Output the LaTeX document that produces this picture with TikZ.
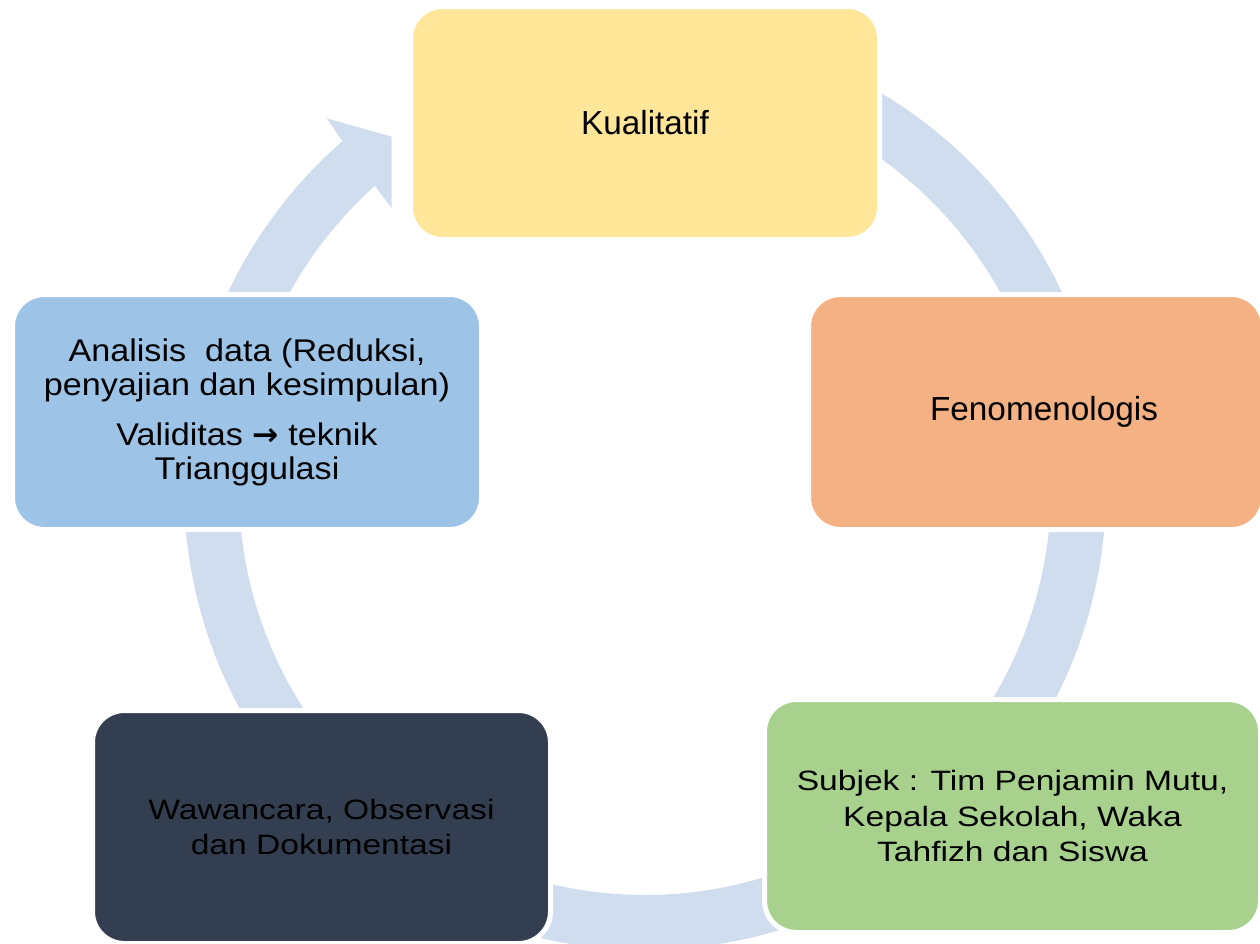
\documentclass[tikz,border=0pt]{standalone}
\usepackage{fontspec}
\setmainfont{Liberation Sans}
\newfontfamily\midfont[FakeStretch=1.09]{Liberation Sans}
\newfontfamily\widefont[FakeStretch=1.2]{Liberation Sans}
\newfontfamily\panahfont{DejaVu Sans}
\usetikzlibrary{calc}
\definecolor{arcblue}{RGB}{208,221,238}
\definecolor{kuning}{RGB}{255,230,153}
\definecolor{oranye}{RGB}{244,177,131}
\definecolor{hijau}{RGB}{169,209,142}
\definecolor{navy}{RGB}{51,63,80}
\definecolor{biru}{RGB}{157,195,230}
\tikzset{every picture/.style={line width=0.75pt}}
\tikzset{arus/.style={fill=arcblue},
  blok/.style={draw=white, line width=3.75pt, rounded corners=24pt, inner sep=0pt, align=center, text=black}}

\begin{document}
\begin{tikzpicture}[x=0.75pt,y=0.75pt,yscale=-1,xscale=1]
\useasboundingbox (0,0) rectangle (1260,943);
\coordinate (ctr) at (645,489);

%Shape: Block Arc (kualitatif to fenomenologis)
\fill [arus] ($(ctr)+(270:461)$) arc [start angle=270, end angle=355, radius=461] -- ($(ctr)+(355:406)$) arc [start angle=355, end angle=270, radius=406] -- cycle;
%Shape: Block Arc (fenomenologis to subjek)
\fill [arus] ($(ctr)+(-5:461)$) arc [start angle=-5, end angle=55, radius=461] -- ($(ctr)+(55:406)$) arc [start angle=55, end angle=-5, radius=406] -- cycle;
%Shape: Block Arc (subjek to wawancara)
\fill [arus] ($(ctr)+(60:461)$) arc [start angle=60, end angle=120, radius=461] -- ($(ctr)+(120:406)$) arc [start angle=120, end angle=60, radius=406] -- cycle;
%Shape: Block Arc (wawancara to analisis)
\fill [arus] ($(ctr)+(125:461)$) arc [start angle=125, end angle=185, radius=461] -- ($(ctr)+(185:406)$) arc [start angle=185, end angle=125, radius=406] -- cycle;
%Shape: Circular Arrow (analisis to kualitatif)
\fill [arus] ($(ctr)+(190:461)$) arc [start angle=190, end angle=228.97, radius=461] -- (326.7,118.3) -- (391.7,136.7) -- (391.7,208.3) -- ($(ctr)+(228.3:406)$) arc [start angle=228.3, end angle=190, radius=406] -- cycle;

% Text Node
\node [blok, fill=kuning, minimum width=351.75pt, minimum height=174.75pt, font={\fontsize{25}{30}\selectfont}] (kual) at (645,123) {Kualitatif};
% Text Node
\node [blok, fill=oranye, minimum width=341.25pt, minimum height=176.25pt, font={\fontsize{25}{30}\selectfont}] (fenom) at (1036,412) {\hspace*{12pt}Fenomenologis};
% Text Node
\node [blok, fill=hijau, minimum width=372pt, minimum height=174.75pt, font={\widefont\fontsize{21}{26.5}\selectfont}] (subj) at (1012.5,816) {Subjek : Tim Penjamin Mutu,\\Kepala Sekolah, Waka\\Tahfizh dan Siswa};
% Text Node
\node [blok, fill=navy, minimum width=343.5pt, minimum height=174.75pt, font={\widefont\fontsize{21}{26.5}\selectfont}] (wawa) at (321.5,827) {Wawancara, Observasi\\dan Dokumentasi};
% Text Node
\node [blok, fill=biru, minimum width=351.75pt, minimum height=176.25pt, font={\midfont\fontsize{23.5}{25.5}\selectfont}] (anal) at (247,412) {Analisis\ \ data (Reduksi,\\penyajian dan kesimpulan)\\[12pt]Validitas {\panahfont\bfseries →} teknik\\Trianggulasi};

\end{tikzpicture}
\end{document}
